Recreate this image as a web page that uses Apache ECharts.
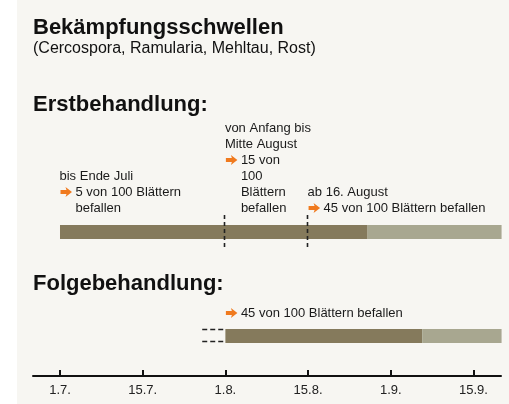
<!DOCTYPE html>
<html><head><meta charset="utf-8">
<script src="https://cdn.jsdelivr.net/npm/echarts@6/dist/echarts.min.js"></script>
<style>html,body{margin:0;padding:0;background:#fff}#c{width:509px;height:404px}</style>
</head><body><div id="c"></div>
<script>
// Tick labels (equally spaced half-month steps)
const tickLabels = ['1.7.', '15.7.', '1.8.', '15.8.', '1.9.', '15.9.'];
const tickValues = [0, 1, 2, 3, 4, 5];
// Rows: 1 = Erstbehandlung, 0 = Folgebehandlung
const rowNames = ['Folgebehandlung:', 'Erstbehandlung:'];
// Bar segments
const segRow   = [1, 1, 0, 0];
const segStart = [0, 3.72, 2, 4.38];
const segEnd   = [3.72, 5.34, 4.38, 5.34];
const segKind  = ['dark', 'light', 'dark', 'light'];
// Threshold boundaries on the Erstbehandlung bar
const erstBounds = [2, 3];
// Dashed lead-in of the Folgebehandlung bar
const folgeLead = [1.72, 2];
// Annotations: anchor x, row, lines ('>' = arrow line, '_' = indented line)
const annX    = [0, 2, 3, 2];
const annRow  = [1, 1, 1, 0];
const annText = [
  ['bis Ende Juli', '>5 von 100 Blättern', '_befallen'],
  ['von Anfang bis', 'Mitte August', '>15 von', '_100', '_Blättern', '_befallen'],
  ['ab 16. August', '>45 von 100 Blättern befallen'],
  ['>45 von 100 Blättern befallen']
];

const colors = { dark: '#857a5c', light: '#a8a790' };
const FONT = '"Liberation Sans", Arial, Helvetica, sans-serif';
const LINE_H = 16, INDENT = 16;

const chart = echarts.init(document.getElementById('c'), null, { renderer: 'canvas' });

function arrowShape(x, cy) {
  return {
    type: 'polygon',
    shape: { points: [[x, cy - 1.9], [x + 6, cy - 1.9], [x + 5, cy - 5], [x + 11.5, cy], [x + 5, cy + 5], [x + 6, cy + 1.9], [x, cy + 1.9]] },
    style: { fill: '#f07a1e' }
  };
}

const option = {
  backgroundColor: '#ffffff',
  animation: false,
  graphic: [
    { type: 'rect', z: -10, shape: { x: 17, y: 0, width: 492, height: 404 }, style: { fill: '#f7f6f2' } },
    { type: 'text', left: 33, top: 17, style: { text: 'Bekämpfungsschwellen', font: 'bold 22px ' + FONT, fill: '#111' } },
    { type: 'text', left: 33, top: 41, style: { text: '(Cercospora, Ramularia, Mehltau, Rost)', font: '16px ' + FONT, fill: '#111' } },
    { type: 'text', left: 33, top: 94, style: { text: rowNames[1], font: 'bold 22px ' + FONT, fill: '#111' } },
    { type: 'text', left: 33, top: 273, style: { text: rowNames[0], font: 'bold 22px ' + FONT, fill: '#111' } }
  ],
  grid: { left: 33, right: 8, top: 180, bottom: 28, containLabel: false },
  xAxis: {
    type: 'value', min: -0.3265, max: 5.333,
    axisLine: { show: true, onZero: false, lineStyle: { color: '#111', width: 2 } },
    axisTick: { show: true, inside: true, length: 6, customValues: tickValues, lineStyle: { color: '#111', width: 2 } },
    axisLabel: { customValues: tickValues, formatter: v => tickLabels[Math.round(v)], fontSize: 13, color: '#222', margin: 8, fontFamily: FONT },
    splitLine: { show: false }
  },
  yAxis: { type: 'value', min: -0.3846, max: 1.5, show: false, splitLine: { show: false } },
  series: [
    {
      type: 'custom',
      data: segRow.map((r, i) => [segStart[i], segEnd[i], r, i]),
      encode: { x: [0, 1], y: 2 },
      renderItem: function (params, api) {
        const i = api.value(3);
        const p0 = api.coord([api.value(0), api.value(2)]);
        const p1 = api.coord([api.value(1), api.value(2)]);
        return { type: 'rect', shape: { x: p0[0], y: p0[1] - 7, width: p1[0] - p0[0], height: 14 }, style: { fill: colors[segKind[i]] } };
      }
    },
    {
      type: 'custom',
      data: erstBounds.map(x => [x, 1]),
      renderItem: function (params, api) {
        const p = api.coord([api.value(0), api.value(1)]);
        const x = Math.round(p[0]) - 0.5;
        return { type: 'line', z2: 10, shape: { x1: x, y1: p[1] - 17, x2: x, y2: p[1] + 15 }, style: { stroke: '#222', lineWidth: 1.6, lineDash: [4, 3] } };
      }
    },
    {
      type: 'custom',
      data: [[folgeLead[0], folgeLead[1], 0]],
      renderItem: function (params, api) {
        const p0 = api.coord([api.value(0), api.value(2)]);
        const p1 = api.coord([api.value(1), api.value(2)]);
        const st = { stroke: '#222', lineWidth: 1.3, lineDash: [5, 3] };
        return { type: 'group', children: [
          { type: 'line', shape: { x1: p0[0], y1: p0[1] - 6.5, x2: p1[0], y2: p1[1] - 6.5 }, style: st },
          { type: 'line', shape: { x1: p0[0], y1: p0[1] + 5.5, x2: p1[0], y2: p1[1] + 5.5 }, style: st }
        ] };
      }
    },
    {
      type: 'custom',
      data: annX.map((x, i) => [x, annRow[i], i]),
      renderItem: function (params, api) {
        const i = api.value(2);
        const p = api.coord([api.value(0), api.value(1)]);
        const lines = annText[i];
        const n = lines.length;
        const bottom = p[1] - (api.value(1) === 0 ? 15 : 16);
        const x0 = p[0] - 0.5;
        const children = [];
        lines.forEach(function (s, k) {
          const cy = bottom - (n - 1 - k) * LINE_H - LINE_H / 2;
          let txt = s, dx = 0;
          if (s[0] === '>') { txt = s.slice(1); dx = INDENT; children.push(arrowShape(x0 + 1, cy)); }
          else if (s[0] === '_') { txt = s.slice(1); dx = INDENT; }
          children.push({
            type: 'text', x: x0 + dx, y: cy,
            style: { text: txt, font: '13px ' + FONT, fill: '#1a1a1a', align: 'left', verticalAlign: 'middle' }
          });
        });
        return { type: 'group', children: children };
      }
    }
  ]
};
chart.setOption(option);
</script></body></html>
